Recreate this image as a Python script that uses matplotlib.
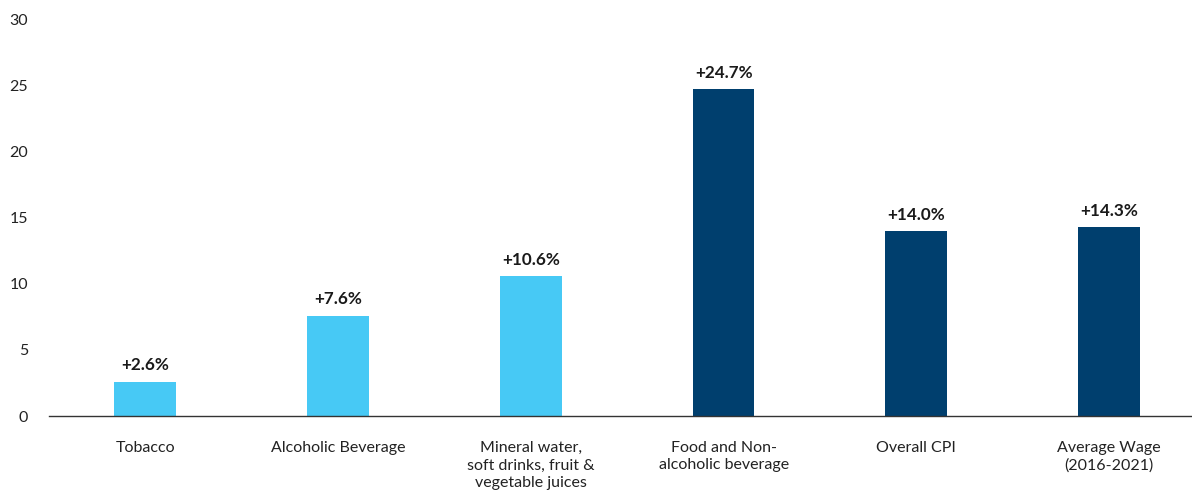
import matplotlib
matplotlib.use("Agg")
import matplotlib.pyplot as plt

categories = ["Tobacco", "Alcoholic Beverage",
              "Mineral water,\nsoft drinks, fruit &\nvegetable juices",
              "Food and Non-\nalcoholic beverage", "Overall CPI",
              "Average Wage\n(2016-2021)"]
values = [2.6, 7.6, 10.6, 24.7, 14.0, 14.3]
value_labels = ["+2.6%", "+7.6%", "+10.6%", "+24.7%", "+14.0%", "+14.3%"]
colors = ["#47C9F5", "#47C9F5", "#47C9F5", "#003F6E", "#003F6E", "#003F6E"]
y_ticks = [0, 5, 10, 15, 20, 25, 30]

plt.rcParams['font.family'] = ['Lato', 'DejaVu Sans']

fig = plt.figure(figsize=(11.92, 4.93), dpi=100)
ax = fig.add_axes([0.041, 0.156, 0.959, 0.805])

x = list(range(len(categories)))
bars = ax.bar(x, values, width=0.32, color=colors, zorder=2)

for b, lab in zip(bars, value_labels):
    ax.annotate(lab, (b.get_x() + b.get_width() / 2, b.get_height()),
                xytext=(0, 6), textcoords="offset points",
                ha="center", va="bottom", fontsize=12.3, fontweight="bold",
                color="#1a1a1a")

ax.set_xlim(-0.5, 5.43)
ax.set_ylim(0, 30)
ax.set_yticks(y_ticks)
ax.set_xticks(x)
ax.set_xticklabels(categories, fontsize=11.5, color="#222222", linespacing=1.3)
ax.tick_params(axis="x", length=0, pad=18)
ax.tick_params(axis="y", length=0, pad=15, labelsize=11.5, labelcolor="#222222")

for s in ["top", "right", "left"]:
    ax.spines[s].set_visible(False)
ax.spines["bottom"].set_color("#333333")
ax.spines["bottom"].set_linewidth(1.0)
ax.spines["bottom"].set_zorder(3)

fig.savefig("out.png", dpi=100)
